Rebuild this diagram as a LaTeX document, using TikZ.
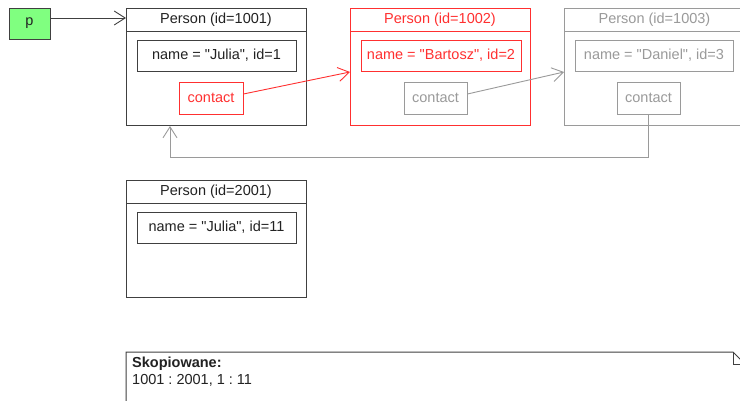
\documentclass[tikz,border=0pt]{standalone}
\usepackage{fontspec}
\setmainfont{Liberation Sans}[Ligatures=TeXOff]
\usetikzlibrary{arrows.meta}
\definecolor{dk}{HTML}{404040}
\definecolor{txt}{HTML}{222222}
\definecolor{rd}{HTML}{FF3030}
\definecolor{gr}{HTML}{9A9A9A}
\definecolor{pgreen}{HTML}{80FF80}
\frenchspacing
\begin{document}
\begin{tikzpicture}[x=1pt,y=-1pt,
  font=\fontsize{14.5}{16.5}\selectfont,
  obj/.style={draw=dk, line width=1pt, inner sep=0pt, minimum width=180pt, minimum height=117pt, anchor=north west},
  field/.style={draw=dk, line width=0.9pt, inner sep=0pt, minimum height=31pt, text=txt},
  ttl/.style={inner sep=0pt, text=txt},
  arr/.style={-{Straight Barb[length=11pt,width=14pt]}, line width=0.9pt},
  red/.style={draw=rd, text=rd},
  grey/.style={draw=gr, text=gr}]
\useasboundingbox (0,0) rectangle (740,401);
\clip (0,0) rectangle (740,401);
\fill[white] (0,0) rectangle (740,401);

% p
\node[draw=dk, line width=0.9pt, fill=pgreen, minimum width=41pt, minimum height=31pt, inner sep=0pt, text=txt] (p) at (29.5,23.5) {p};

% Person 1001
\node[obj] (P1) at (126,8) {};
\draw[dk, line width=1pt] (P1.west |- 0,32) -- (P1.east |- 0,32);
\node[ttl] (T1) at (216,20) {Person (id=1001)};
\node[field, minimum width=159pt] (N1) at (216.5,55.5) {name = "Julia", id=1};
\node[field, red, minimum width=64pt, minimum height=32pt] (C1) at (211,98) {contact};

% Person 1002
\node[obj, draw=rd] (P2) at (350,8) {};
\draw[rd, line width=1pt] (P2.west |- 0,32) -- (P2.east |- 0,32);
\node[ttl, text=rd] (T2) at (440,20) {Person (id=1002)};
\node[field, red, minimum width=160pt] (N2) at (441,55.5) {name = "Bartosz", id=2};
\node[field, grey, minimum width=63pt, minimum height=32pt] (C2) at (435.5,98) {contact};

% Person 1003
\node[obj, draw=gr, minimum width=181pt] (P3) at (564,8) {};
\draw[gr, line width=1pt] (P3.west |- 0,32) -- (P3.east |- 0,32);
\node[ttl, text=gr] (T3) at (654.5,20) {Person (id=1003)};
\node[field, grey, minimum width=158pt] (N3) at (654,55.5) {name = "Daniel", id=3};
\node[field, grey, minimum width=63pt, minimum height=32pt] (C3) at (648.5,98) {contact};

% Person 2001
\node[obj] (P4) at (126,180) {};
\draw[dk, line width=1pt] (P4.west |- 0,204) -- (P4.east |- 0,204);
\node[ttl] (T4) at (216,192) {Person (id=2001)};
\node[field, minimum width=159pt] (N4) at (216.5,227.5) {name = "Julia", id=11};

% connectors
\draw[arr, dk] (p.east |- 0,18) -- (P1.west |- 0,18);
\draw[arr, rd] ([yshift=4pt]C1.east) -- (P2.west |- 0,72);
\draw[arr, gr] ([yshift=4pt]C2.east) -- (P3.west |- 0,72);
\draw[arr, gr] (C3.south) -- (C3.south |- 0,157) -- (170,157) -- (P1.south -| 170,0);

% note
\coordinate (nt) at (126,352);
\draw[dk, line width=1pt] (126,420) -- (nt) -- (733,352) -- (745,364) -- (745,420);
\draw[dk, line width=1pt] (733,352) -- (733,364) -- (745,364);
\node[anchor=north west, inner sep=0pt, text=txt, align=left] (note) at (132,357) {\textbf{Skopiowane:}\\1001 : 2001, 1 : 11};
\end{tikzpicture}
\end{document}
